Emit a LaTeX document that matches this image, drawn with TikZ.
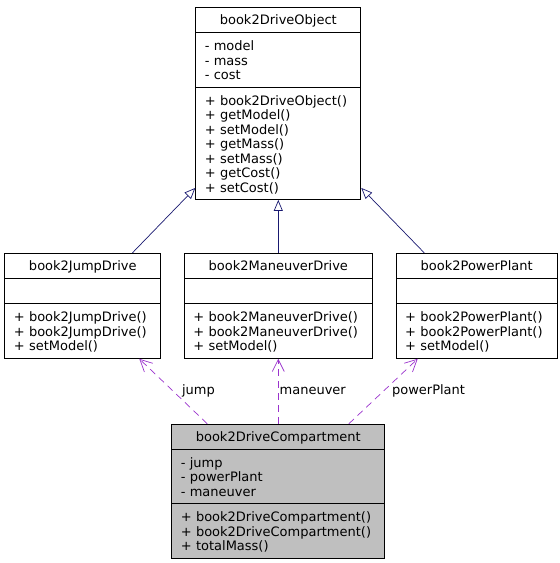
\documentclass[tikz,border=0pt]{standalone}
\usepackage{fontspec}
\setmainfont{DejaVu Sans}
\usetikzlibrary{shapes.multipart, arrows.meta, positioning}

\definecolor{inhblue}{HTML}{191970}
\definecolor{usepurple}{HTML}{9A32CD}
\definecolor{compgray}{HTML}{BFBFBF}

\newcommand{\hd}[1]{\makebox[\linewidth]{\rule[-7.5pt]{0pt}{24.1pt}#1}}
\newcommand{\fst}{\rule{0pt}{17.6pt}}
\newcommand{\lst}{\rule[-7pt]{0pt}{7pt}}
\newcommand{\none}{\rule[-7pt]{0pt}{24.6pt}}

\begin{document}
\begin{tikzpicture}[x=1pt,y=-1pt,
            font=\fontsize{13}{14.5}\selectfont,
            umlclass/.style={draw, line width=0.9pt, rectangle split, rectangle split parts=3,
              inner xsep=9pt, inner ysep=0pt, anchor=north},
            inherit/.style={draw=inhblue, line width=0.7pt, -{Triangle[open,length=11pt,width=9pt]}},
            uses/.style={draw=usepurple, line width=0.7pt, dash pattern=on 7pt off 5pt,
              -{Straight Barb[length=12pt,width=12pt]}},
            lbl/.style={inner sep=1pt, text height=9.5pt, text depth=3pt}]
            \useasboundingbox (0,0) rectangle (560,563);

            \node[umlclass, text width=147pt] (obj) at (278.3,7) {\hd{book2DriveObject}
              \nodepart{two}\fst- model\\- mass\\- cost\lst
              \nodepart{three}\fst+ book2DriveObject()\\+ getModel()\\+ setModel()\\+ getMass()\\+ setMass()\\+ getCost()\\+ setCost()\lst};
            \node[umlclass, text width=170pt, below=53pt of obj] (man) {\hd{book2ManeuverDrive}
              \nodepart{two}\none
              \nodepart{three}\fst+ book2ManeuverDrive()\\+ book2ManeuverDrive()\\+ setModel()\lst};
            \node[umlclass, text width=138pt, left=22.6pt of man] (jump) {\hd{book2JumpDrive}
              \nodepart{two}\none
              \nodepart{three}\fst+ book2JumpDrive()\\+ book2JumpDrive()\\+ setModel()\lst};
            \node[umlclass, text width=143pt, right=23pt of man] (power) {\hd{book2PowerPlant}
              \nodepart{two}\none
              \nodepart{three}\fst+ book2PowerPlant()\\+ book2PowerPlant()\\+ setModel()\lst};
            \node[umlclass, fill=compgray, text width=195pt, below=65pt of man] (comp) {\hd{book2DriveCompartment}
              \nodepart{two}\fst- jump\\- powerPlant\\- maneuver\lst
              \nodepart{three}\fst+ book2DriveCompartment()\\+ book2DriveCompartment()\\+ totalMass()\lst};

            \draw[inherit] ([xshift=49.6pt]jump.north) -- ([yshift=12pt]obj.south west);
            \draw[inherit] (man.north) -- (obj.south);
            \draw[inherit] ([xshift=-52.4pt]power.north) -- ([yshift=12pt]obj.south east);

            \draw[uses] ([xshift=-71pt]comp.north) -- node[lbl, right=7.4pt] {jump} ([xshift=56.5pt]jump.south);
            \draw[uses] (comp.north) -- node[lbl, right=0pt] {maneuver} (comp.north |- man.south);
            \draw[uses] ([xshift=70.5pt]comp.north) -- node[lbl, right=7.5pt] {powerPlant} ([xshift=-59pt]power.south);
\end{tikzpicture}
\end{document}
